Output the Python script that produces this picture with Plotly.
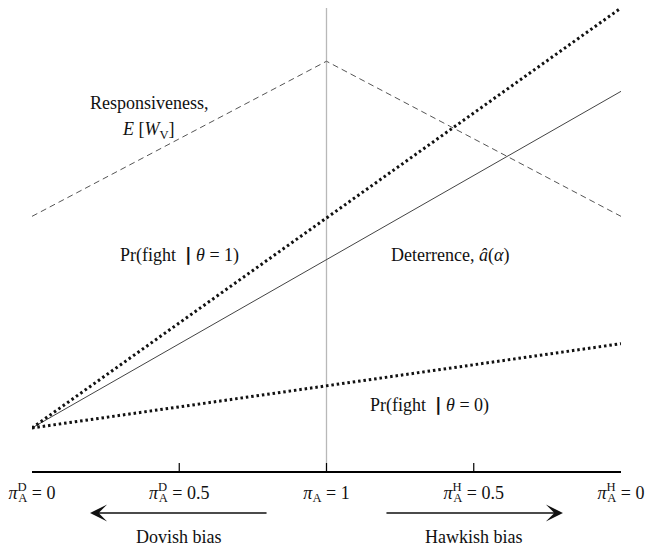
import plotly.graph_objects as go

# ---- data ----
x_pos = [0, 4]
pr_fight_theta1 = [0.093, 1.0]
deterrence = [0.093, 0.82]
pr_fight_theta0 = [0.093, 0.275]
resp_x = [0, 2, 4]
responsiveness = [0.55, 0.885, 0.55]

tick_vals = [0, 1, 2, 3, 4]
tick_marks = [1, 2, 3]
SUPD = "<sup><span style='letter-spacing:-8.5px'>D</span></sup><sub>A</sub>"
SUPH = "<sup><span style='letter-spacing:-8.5px'>H</span></sup><sub>A</sub>"
tick_labels = [
    "<i>π</i>" + SUPD + " = 0",
    "<i>π</i>" + SUPD + " = 0.5",
    "<i>π</i><sub>A</sub> = 1",
    "<i>π</i>" + SUPH + " = 0.5",
    "<i>π</i>" + SUPH + " = 0",
]

FONT = "Liberation Serif, Times New Roman, serif"
BAR = "<span style='font-family:DejaVu Sans;font-weight:bold'>|</span>"

fig = go.Figure()
fig.add_trace(go.Scatter(x=resp_x, y=responsiveness, mode="lines",
                         line=dict(color="#555555", width=1, dash="6px,4px"),
                         hoverinfo="skip"))
fig.add_trace(go.Scatter(x=x_pos, y=deterrence, mode="lines",
                         line=dict(color="#444444", width=1),
                         hoverinfo="skip"))
fig.add_trace(go.Scatter(x=x_pos, y=pr_fight_theta1, mode="lines",
                         line=dict(color="#111111", width=3, dash="2.5px,2.9px"),
                         hoverinfo="skip"))
fig.add_trace(go.Scatter(x=x_pos, y=pr_fight_theta0, mode="lines",
                         line=dict(color="#111111", width=3, dash="2.5px,2.9px"),
                         hoverinfo="skip"))

shapes = [dict(type="line", xref="x", yref="y", x0=2, x1=2, y0=0, y1=1.0,
               line=dict(color="#b8b8b8", width=1.3), layer="below")]
for t in tick_marks:
    shapes.append(dict(type="line", xref="x", yref="y", x0=t, x1=t,
                       ysizemode="pixel", yanchor=0, y0=-8, y1=8,
                       line=dict(color="black", width=1.2)))

ann_font = dict(family=FONT, size=18, color="#111111")
annotations = [
    dict(x=0.80, y=0.795, yref="y", text="Responsiveness,"),
    dict(x=0.79, y=0.7365, yref="y", text="<i>E</i> [<i>W</i><sub>V</sub>]"),
    dict(x=1.0, y=0.4665, yref="y", text="Pr(fight  " + BAR + " <i>θ</i> = 1)"),
    dict(x=2.84, y=0.4665, yref="y", text="Deterrence, <i>â</i>(<i>α</i>)"),
    dict(x=2.70, y=0.1425, yref="y", text="Pr(fight  " + BAR + " <i>θ</i> = 0)"),
    dict(x=1.0, y=-0.140, yref="paper", text="Dovish bias"),
    dict(x=3.0, y=-0.140, yref="paper", text="Hawkish bias"),
]
for a in annotations:
    a.update(xref="x", showarrow=False, font=ann_font,
             xanchor="center", yanchor="middle")

# arrows
for head, tail in [(0.394, 1.603), (3.606, 2.397)]:
    annotations.append(dict(x=head, y=-0.0892, xref="x", yref="paper",
                            ax=tail, ay=0, axref="x", ayref="pixel",
                            showarrow=True, arrowhead=3, arrowsize=1.9,
                            arrowwidth=1.5, arrowcolor="#111111", text=""))

fig.update_layout(
    width=649, height=550,
    margin=dict(l=32, r=28, t=0, b=79),
    paper_bgcolor="white", plot_bgcolor="white",
    showlegend=False,
    shapes=shapes, annotations=annotations,
    xaxis=dict(range=[0, 4], showgrid=False, zeroline=False,
               showline=True, linecolor="black", linewidth=2,
               tickmode="array", tickvals=tick_vals, ticktext=tick_labels,
               ticks="", tickfont=dict(family=FONT, size=18, color="#111111"),
               ticklabelstandoff=4, fixedrange=True),
    yaxis=dict(range=[0, 471 / 463], visible=False, fixedrange=True),
)

fig.write_html("out.html", config={"displayModeBar": False},
               post_script="document.body.style.margin='0';")
